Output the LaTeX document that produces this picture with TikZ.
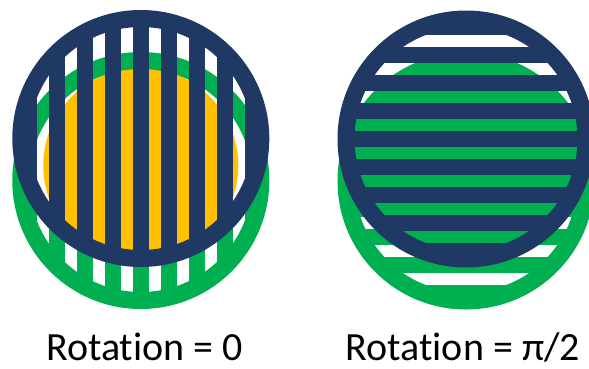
\documentclass[tikz,border=0pt]{standalone}
\usepackage{fontspec}
\setmainfont[Ligatures=NoCommon]{Carlito}
\definecolor{navy}{HTML}{203864}
\definecolor{grn}{HTML}{00B050}
\definecolor{orng}{HTML}{FFC000}
\newcommand\mygrating[4]{%
  \begin{scope}[shift={(#1,#2)}, rotate=#4]
    \fill[#3, even odd rule] (0,0) circle[radius=128.5] (0,0) circle[radius=111.5];
    \begin{scope}
      \clip (0,0) circle[radius=112];
      \foreach \k in {-4,...,4} {
        \fill[#3] ({\k*28-7.75},-130) rectangle ({\k*28+7.75},130);
      }
    \end{scope}
  \end{scope}}
\tikzset{caption/.style={anchor=base west, inner sep=0pt, font=\fontsize{40}{48}\selectfont}}
\begin{document}
\begin{tikzpicture}[x=1pt,y=-1pt]
  \useasboundingbox (0,0) rectangle (589,368);
  % left: rotation 0
  \fill[orng] (140.8,165.5) circle[radius=97.5];
  \mygrating{140.8}{180.5}{grn}{0}
  \mygrating{140.8}{138.5}{navy}{0}
  % right: rotation pi/2
  \mygrating{466}{181}{grn}{90}
  \mygrating{466}{139}{navy}{90}
  \node[caption] (capA) at (46,360.5) {Rotation = 0};
  \node[caption] (capB) at (345.5,360.5) {Rotation = π/2};
\end{tikzpicture}
\end{document}
